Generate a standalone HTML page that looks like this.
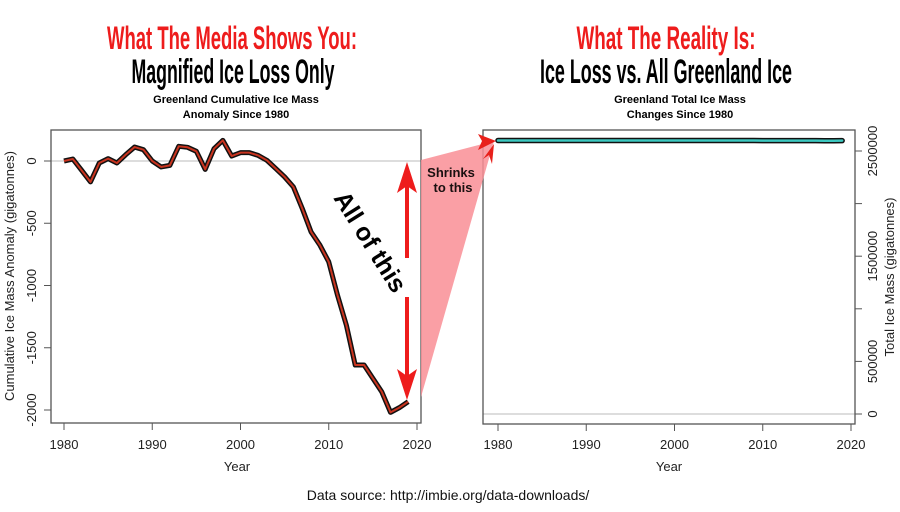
<!DOCTYPE html>
<html><head><meta charset="utf-8"><style>
body{margin:0;background:#fff;}
svg{display:block;font-family:"Liberation Sans",sans-serif;}
.cond{font-family:"Liberation Sans Narrow","Liberation Sans",sans-serif;font-weight:bold;}
</style></head><body>
<svg id="svg" width="900" height="512" viewBox="0 0 900 512">
<g>
<text class="cond" x="232" y="49" text-anchor="middle" font-size="32" fill="#ee1c1c" textLength="250" lengthAdjust="spacingAndGlyphs">What The Media Shows You:</text>
<text class="cond" x="233" y="83" text-anchor="middle" font-size="34" fill="#000" textLength="203" lengthAdjust="spacingAndGlyphs">Magnified Ice Loss Only</text>
<text x="236" y="103" text-anchor="middle" font-size="11" font-weight="bold">Greenland Cumulative Ice Mass</text>
<text x="236" y="118" text-anchor="middle" font-size="11" font-weight="bold">Anomaly Since 1980</text>
</g>
<g>
<text class="cond" x="666" y="49" text-anchor="middle" font-size="32" fill="#ee1c1c" textLength="179" lengthAdjust="spacingAndGlyphs">What The Reality Is:</text>
<text class="cond" x="666" y="83" text-anchor="middle" font-size="34" fill="#000" textLength="252" lengthAdjust="spacingAndGlyphs">Ice Loss vs. All Greenland Ice</text>
<text x="680" y="103" text-anchor="middle" font-size="11" font-weight="bold">Greenland Total Ice Mass</text>
<text x="680" y="118" text-anchor="middle" font-size="11" font-weight="bold">Changes Since 1980</text>
</g>
<g id="left"></g>
<g id="right"></g>
<g id="ann"></g>
<text x="448" y="500" text-anchor="middle" font-size="14" fill="#111">Data source: http://imbie.org/data-downloads/</text>
</svg>
<script>
const years=[1980,1981,1982,1983,1984,1985,1986,1987,1988,1989,1990,1991,1992,1993,1994,1995,1996,1997,1998,1999,2000,2001,2002,2003,2004,2005,2006,2007,2008,2009,2010,2011,2012,2013,2014,2015,2016,2017,2018,2019];
const anomaly=[0,16,-75,-168,-16,19,-16,51,112,91,0,-48,-35,118,110,78,-67,99,166,40,67,67,45,5,-61,-128,-209,-382,-570,-676,-810,-1080,-1320,-1639,-1639,-1746,-1853,-2019,-1981,-1933];
const totalBase=[2600000];
const xTicks=[1980,1990,2000,2010,2020];
const leftYTicks=[0,-500,-1000,-1500,-2000];
const rightYTicks=[0,500000,1000000,1500000,2000000,2500000];
const rightYLabels=["0","500000","","1500000","","2500000"];
const NS="http://www.w3.org/2000/svg";
function mk(p,t,a,txt){const e=document.createElementNS(NS,t);for(const k in a)e.setAttribute(k,a[k]);if(txt!==undefined)e.textContent=txt;p.appendChild(e);return e;}
// left
const L=document.getElementById('left');
const lx=y=>64+(y-1980)*(417-64)/40;
const ly=v=>161-v*(410-161)/2000;
mk(L,'line',{x1:51,x2:421,y1:ly(0),y2:ly(0),stroke:'#bbb','stroke-width':1});
let r=mk(L,'rect',{x:51,y:130,width:370,height:293,fill:'none',stroke:'#555','stroke-width':1.3});

xTicks.forEach(t=>{mk(L,'line',{x1:lx(t),x2:lx(t),y1:423,y2:430,stroke:'#555'});
 const e=mk(L,'text',{x:lx(t),y:449,'text-anchor':'middle','font-size':13,fill:'#222'},t);
 });
leftYTicks.forEach(t=>{mk(L,'line',{x1:44,x2:51,y1:ly(t),y2:ly(t),stroke:'#555'});
 const e=mk(L,'text',{x:36,y:ly(t),'text-anchor':'middle','font-size':13,fill:'#222',transform:`rotate(-90 36 ${ly(t)})`},t);
 });
let t1=mk(L,'text',{x:237,y:471,'text-anchor':'middle','font-size':13,fill:'#222'},'Year');

let t2=mk(L,'text',{x:14,y:276,'text-anchor':'middle','font-size':13,fill:'#222',transform:'rotate(-90 14 276)'},'Cumulative Ice Mass Anomaly (gigatonnes)');

const pts=years.map((y,i)=>lx(y)+','+ly(anomaly[i])).join(' ');
mk(L,'polyline',{points:pts,fill:'none',stroke:'#111','stroke-width':5,'stroke-linejoin':'round'});
let ln=mk(L,'polyline',{points:pts,fill:'none',stroke:'#c8341f','stroke-width':2,'stroke-linejoin':'round'});

// right
const R=document.getElementById('right');
const rx=y=>498+(y-1980)*(851-498)/40;
const ry=v=>414-v*(414-151)/2500000;
mk(R,'line',{x1:483,x2:855,y1:ry(0),y2:ry(0),stroke:'#bbb','stroke-width':1});
r=mk(R,'rect',{x:483,y:130,width:372,height:294,fill:'none',stroke:'#555','stroke-width':1.3});

xTicks.forEach(t=>{mk(R,'line',{x1:rx(t),x2:rx(t),y1:424,y2:431,stroke:'#555'});
 const e=mk(R,'text',{x:rx(t),y:449,'text-anchor':'middle','font-size':13,fill:'#222'},t);
 });
rightYTicks.forEach((t,i)=>{mk(R,'line',{x1:855,x2:862,y1:ry(t),y2:ry(t),stroke:'#555'});
 if(rightYLabels[i]){const e=mk(R,'text',{x:877,y:ry(t),'text-anchor':'middle','font-size':13,fill:'#222',transform:`rotate(-90 877 ${ry(t)})`},rightYLabels[i]);
 }});
t1=mk(R,'text',{x:669,y:471,'text-anchor':'middle','font-size':13,fill:'#222'},'Year');

t2=mk(R,'text',{x:894,y:277,'text-anchor':'middle','font-size':13,fill:'#222',transform:'rotate(-90 894 277)'},'Total Ice Mass (gigatonnes)');

const rpts=years.map((y,i)=>rx(y)+','+ry(totalBase[0]+anomaly[i])).join(' ');
mk(R,'polyline',{points:rpts,fill:'none',stroke:'#111','stroke-width':5.5,'stroke-linejoin':'round','stroke-linecap':'round'});
ln=mk(R,'polyline',{points:rpts,fill:'none',stroke:'#3cc8c0','stroke-width':2.5,'stroke-linejoin':'round','stroke-linecap':'round'});

// annotations
const A=document.getElementById('ann');
let p=mk(A,'polygon',{points:'421,160 494,141 421,397',fill:'#f98e95',opacity:0.85});

p=mk(A,'polygon',{points:'496,141 478,134 482,141 478,150',fill:'#e8201a'});
mk(A,'polygon',{points:'494,144 483,159 489,155 492,164',fill:'#e8201a'});
mk(A,'line',{x1:407,x2:407,y1:180,y2:258,stroke:'#ee1c1c','stroke-width':4});
mk(A,'line',{x1:407,x2:407,y1:297,y2:380,stroke:'#ee1c1c','stroke-width':4});
p=mk(A,'polygon',{points:'407,162 397,193 407,186 417,193',fill:'#ee1c1c'});

p=mk(A,'polygon',{points:'407,400 397,369 407,376 417,369',fill:'#ee1c1c'});

let tx=mk(A,'text',{x:370,y:250,'text-anchor':'middle','font-size':25,'font-weight':'bold',fill:'#000',transform:'rotate(58 370 242)'},'All of this');

tx=mk(A,'text',{x:451,y:177,'text-anchor':'middle','font-size':13,'font-weight':'bold',fill:'#1a1010'},'Shrinks');

tx=mk(A,'text',{x:453,y:192,'text-anchor':'middle','font-size':13,'font-weight':'bold',fill:'#1a1010'},'to this');

</script>
</body></html>
